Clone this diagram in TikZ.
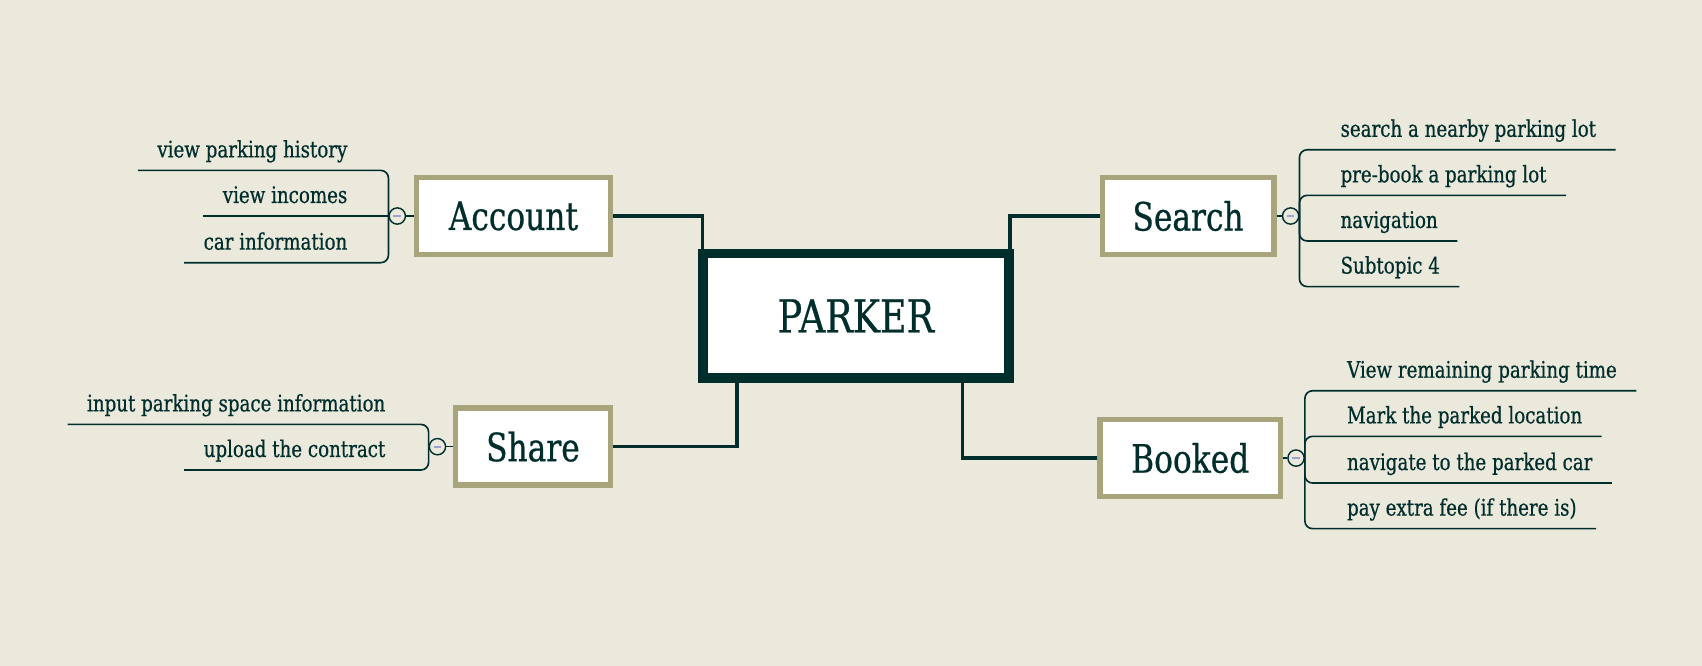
\documentclass[tikz,border=0pt]{standalone}
\usepackage{fontspec}
\setmainfont{DejaVu Serif}[FakeStretch=0.8, FakeBold=0.6]
\usetikzlibrary{calc}
\definecolor{bg}{HTML}{EBE8DC}
\definecolor{ink}{HTML}{002E2C}
\definecolor{tan}{HTML}{A8A47B}
\definecolor{minuscol}{HTML}{9DA3D1}

\begin{document}
\begin{tikzpicture}[x=1pt, y=-1pt,
  central/.style={draw=ink, line width=9pt, fill=white, text=ink, font=\fontsize{42}{48}\selectfont,
    minimum width=282pt, minimum height=115pt, inner sep=0pt, outer sep=4.5pt},
  topic/.style={draw=tan, line width=5pt, fill=white, text=ink, font=\fontsize{36}{42}\selectfont,
    minimum height=71pt, inner sep=0pt, outer sep=2.5pt},
  sub/.style={text=ink, font=\fontsize{21}{24}\selectfont, inner xsep=18pt, inner ysep=0pt,
    text height=16pt, text depth=12pt, outer sep=0pt},
  trunk/.style={draw=ink, line width=3pt},
  twig/.style={draw=ink, line width=1.5pt, rounded corners=7pt},
  toggle/.style={circle, draw=ink, line width=1.3pt, fill=bg, minimum size=15pt, inner sep=0pt,
    path picture={\draw[minuscol, line width=1.8pt] ([xshift=-3.5pt]path picture bounding box.center)
      -- ([xshift=3.5pt]path picture bounding box.center);}}]
\fill[bg] (0,0) rectangle (1568,613.5);

\node[central] (parker) at (788.5,291) {PARKER};

\node[topic, minimum width=179pt] (account) at (473,199) {Account};
\node[topic, minimum width=158pt] (search) at (1094.5,199) {Search};
\node[topic, minimum width=143pt] (share) at (491,411.5) {Share};
\node[topic, minimum width=166pt] (booked) at (1096.5,422) {Booked};

\draw[trunk] (account.east) -| ([xshift=4pt]parker.north west);
\draw[trunk] (search.west) -| ([xshift=-3.5pt]parker.north east);
\draw[trunk] (share.east) -| ([xshift=36pt]parker.south west);
\draw[trunk] (booked.west) -| ([xshift=-47pt]parker.south east);

\node[toggle] (acct) at (366,199) {};
\node[toggle] (srcht) at (1189,199) {};
\node[toggle] (shrt) at (403,411.5) {};
\node[toggle] (bkdt) at (1194,422) {};
\draw[twig] (account.west) -- (acct.east);
\draw[twig] (search.east) -- (srcht.west);
\draw[twig] (share.west) -- (shrt.east);
\draw[twig] (booked.east) -- (bkdt.west);

\node[sub, anchor=south east] (acc1) at (338,157) {view parking history};
\node[sub, anchor=south east] (acc2) at (338,199) {view incomes};
\node[sub, anchor=south east] (acc3) at (338,242) {car information};
\draw[twig] (acct.west) |- (acc1.south east) -- (acc1.south west);
\draw[twig] (acct.west) -- (acc2.south east) -- (acc2.south west);
\draw[twig] (acct.west) |- (acc3.south east) -- (acc3.south west);

\node[sub, anchor=south west] (srch1) at (1217,138) {search a nearby parking lot};
\node[sub, anchor=south west] (srch2) at (1217,180) {pre-book a parking lot};
\node[sub, anchor=south west] (srch3) at (1217,222) {navigation};
\node[sub, anchor=south west] (srch4) at (1217,264) {Subtopic 4};
\draw[twig] (srcht.east) |- (srch1.south west) -- (srch1.south east);
\draw[twig] (srcht.east) |- (srch2.south west) -- (srch2.south east);
\draw[twig] (srcht.east) |- (srch3.south west) -- (srch3.south east);
\draw[twig] (srcht.east) |- (srch4.south west) -- (srch4.south east);

\node[sub, anchor=south east] (shr1) at (373,391) {input parking space information};
\node[sub, anchor=south east] (shr2) at (373,433) {upload the contract};
\draw[twig] (shrt.west) |- (shr1.south east) -- (shr1.south west);
\draw[twig] (shrt.west) |- (shr2.south east) -- (shr2.south west);

\node[sub, anchor=south west] (bkd1) at (1223,360) {View remaining parking time};
\node[sub, anchor=south west] (bkd2) at (1223,402) {Mark the parked location};
\node[sub, anchor=south west] (bkd3) at (1223,445) {navigate to the parked car};
\node[sub, anchor=south west] (bkd4) at (1223,487) {pay extra fee (if there is)};
\draw[twig] (bkdt.east) |- (bkd1.south west) -- (bkd1.south east);
\draw[twig] (bkdt.east) |- (bkd2.south west) -- (bkd2.south east);
\draw[twig] (bkdt.east) |- (bkd3.south west) -- (bkd3.south east);
\draw[twig] (bkdt.east) |- (bkd4.south west) -- (bkd4.south east);

\end{tikzpicture}
\end{document}
